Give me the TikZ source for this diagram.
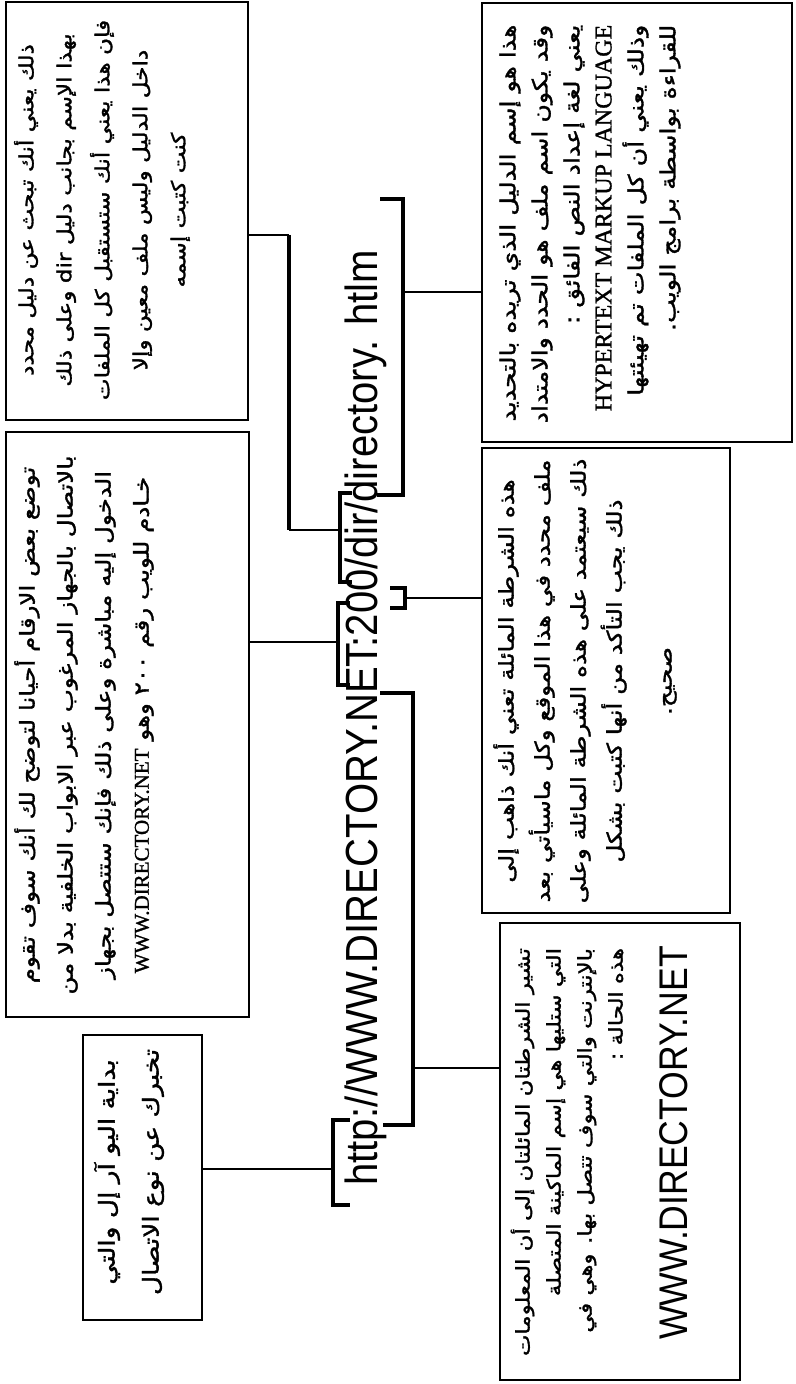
\documentclass[tikz,border=0pt]{standalone}
\usepackage{fontspec}
\TeXXeTstate=1
\newfontfamily\arabicfont[Script=Arabic, FakeStretch=1.2, FakeBold=1.6]{DejaVu Sans}
\newfontfamily\latinserif[FakeBold=1.2]{Liberation Serif}
\newfontfamily\urlfont[FakeStretch=0.89]{Liberation Sans}
\def\framenode{\node[draw, line width=2pt, inner sep=0pt]}
\def\textnode{\node[rotate=90, inner sep=0pt]}
\def\drawbar{\draw[line width=3.6pt]}
\def\drawlink{\draw[line width=2pt]}
\def\arabsize#1#2{\arabicfont\fontsize{#1}{#2}\selectfont}

\begin{document}
\begin{tikzpicture}[x=1bp, y=-1bp, line join=miter]
\useasboundingbox (0,0) rectangle (795,1384);
\framenode (dirbox) at (127,211) [minimum width=242bp, minimum height=418bp] {};
\framenode (portbox) at (127.5,724.5) [minimum width=243bp, minimum height=585bp] {};
\framenode (schemebox) at (142.5,1177.5) [minimum width=119bp, minimum height=285bp] {};
\framenode (filebox) at (637,222.5) [minimum width=310bp, minimum height=439bp] {};
\framenode (slashbox) at (606,680.5) [minimum width=248bp, minimum height=465bp] {};
\framenode (hostbox) at (620,1151.5) [minimum width=240bp, minimum height=457bp] {};
\textnode (dirtext) at (102,210) [font=\arabsize{19.3bp}{38bp}, align=center]
  {\beginR ذلك يعني أنك تبحث عن دليل محدد\endR\\
   \beginR بهذا الإسم بجانب دليل dir وعلى ذلك\endR\\
   \beginR فإن هذا يعني أنك ستستقبل كل الملفات\endR\\
   \beginR داخل الدليل وليس ملف معين وإلا\endR\\
   \beginR كنت كتبت إسمه\endR};
\textnode (porttext) at (84,725) [font=\arabsize{20.5bp}{38bp}, align=center]
  {\beginR توضع بعض الارقام أحيانا لتوضح لك أنك سوف تقوم\endR\\
   \beginR بالاتصال بالجهاز المرغوب عبر الابواب الخلفية بدلا من\endR\\
   \beginR الدخول إليه مباشرة وعلى ذلك فإنك ستتصل بجهاز\endR\\
   \beginR خـادم للويب رقم \beginL ٢٠٠\endL{} وهو {\latinserif\fontsize{21bp}{21bp}\selectfont WWW.DIRECTORY.NET}\endR};
\textnode (schemetext) at (129,1172) [font=\arabsize{22bp}{44bp}, align=center]
  {\beginR بداية اليو آر إل والتي\endR\\
   \beginR تخبرك عن نوع الاتصال\endR};
\textnode (filetext) at (590,224) [font=\arabsize{21bp}{32bp}, align=right]
  {\beginR هذا هو إسم الدليل الذي تريده بالتحديد\endR\\
   \beginR وقد يكون اسم ملف هو الحدد والامتداد\endR\\
   \beginR يعني لغة إعداد النص الفائق :\endR\\
   {\latinserif\fontsize{24bp}{24bp}\selectfont HYPERTEXT MARKUP LANGUAGE}\\
   \beginR وذلك يعني أن كل الملفات تم تهيئتها\endR\\
   \beginR للقراءة بواسطة برامج الويب.\endR};
\textnode (slashtext) at (585,681) [font=\arabsize{20.5bp}{36bp}, align=center]
  {\beginR هذه الشرطة المائلة تعني أنك ذاهب إلى\endR\\
   \beginR ملف محدد في هذا الموقع وكل ماسيأتي بعد\endR\\
   \beginR ذلك سيعتمد على هذه الشرطة المائلة وعلى\endR\\
   \beginR ذلك يجب التأكد من أنها كتبت بشكل\endR\\[14bp]
   \beginR صحيح.\endR};
\textnode (hosttext) at (567,1152) [font=\arabsize{19bp}{31bp}, align=right]
  {\beginR تشير الشرطتان المائلتان إلى أن المعلومات\endR\\
   \beginR التي ستليها هي إسم الماكينة المتصلة\endR\\
   \beginR بالإنترنت والتي سوف تتصل بها. وهي في\endR\\
   \beginR هذه الحالة :\endR};
\textnode (hostname) at (674,1143) [font=\urlfont\fontsize{40bp}{40bp}\selectfont] {WWW.DIRECTORY.NET};
\textnode (url) at (366,718) [font=\urlfont\fontsize{45bp}{45bp}\selectfont] {http://WWW.DIRECTORY.NET:200/dir/directory. htlm};
\coordinate (httptab) at (333,1169);
\coordinate (hosttab) at (413,1068);
\coordinate (porttab) at (338,642);
\coordinate (slashtab) at (405,598);
\coordinate (dirtab) at (340,530);
\coordinate (filetab) at (403,292);
\coordinate (dirknee) at (289,235);
\coordinate (dirfoot) at (289,530);
\drawbar (350,1120) -- (333,1120) -- (333,1205) -- (350,1205);
\drawbar (380,693) -- (413,693) -- (413,1125) -- (383,1125);
\drawbar (350,603) -- (338,603) -- (338,685) -- (350,685);
\drawbar (390,588) -- (405,588) -- (405,608) -- (390,608);
\drawbar (352,493) -- (340,493) -- (340,582) -- (352,582);
\drawbar (380,199) -- (403,199) -- (403,495) -- (377,495);
\drawlink (schemebox.east |- httptab) -- (httptab);
\drawlink (hosttab) -- (hostbox.west |- hosttab);
\drawlink (portbox.east |- porttab) -- (porttab);
\drawlink (slashtab) -- (slashbox.west |- slashtab);
\drawlink (filetab) -- (filebox.west |- filetab);
\drawlink (dirbox.east |- dirknee) -- (dirknee);
\drawbar (dirknee) -- (dirfoot);
\drawlink (dirfoot) -- (dirtab);
\end{tikzpicture}
\end{document}
